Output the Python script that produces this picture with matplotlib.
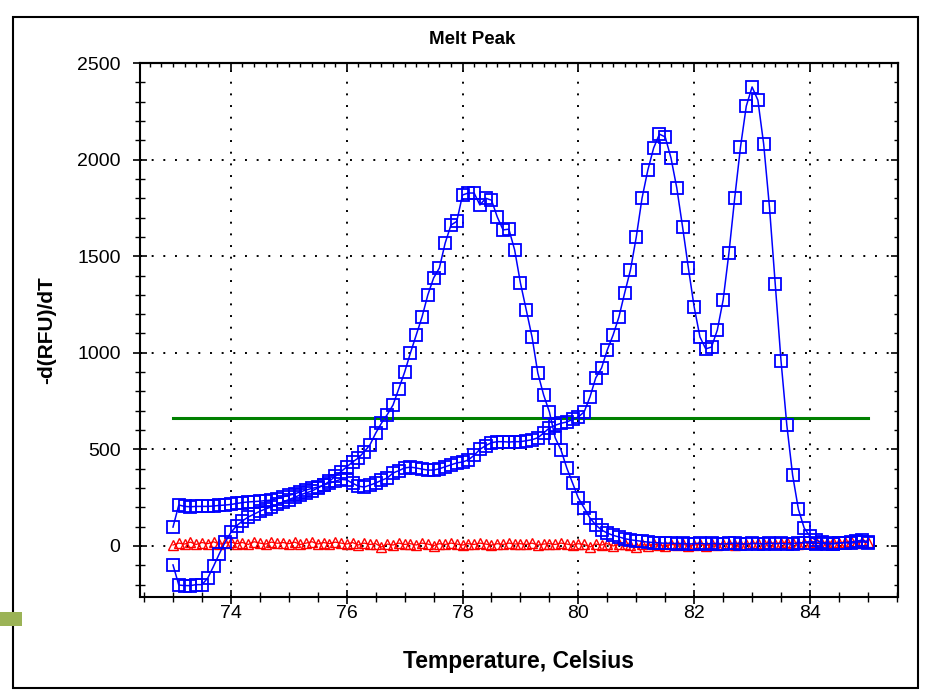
import numpy as np
import matplotlib
matplotlib.use('Agg')
import matplotlib.pyplot as plt
from matplotlib.patches import Rectangle
from matplotlib.ticker import MultipleLocator

plt.rcParams['font.family'] = ['Liberation Sans', 'DejaVu Sans']

# %% data (0.1 C steps, 73.0 -> 85.0)
temp = np.linspace(73.0, 85.0, 121)

well_a = [98, 212, 205, 203, 205, 205, 205, 207, 210, 212,
          215, 220, 225, 228, 230, 232, 235, 238, 245, 255,
          262, 270, 280, 290, 298, 305, 315, 325, 335, 345,
          342, 325, 310, 305, 315, 326, 340, 352, 378, 390,
          404, 408, 404, 398, 393, 393, 400, 410, 420, 430,
          435, 445, 470, 500, 520, 535, 540, 540, 538, 540,
          540, 545, 550, 560, 585, 611, 625, 635, 642, 655,
          668, 694, 771, 870, 921, 1015, 1092, 1185, 1310, 1429,
          1599, 1801, 1946, 2060, 2132, 2117, 2008, 1853, 1651, 1439,
          1237, 1082, 1020, 1030, 1118, 1273, 1516, 1801, 2065, 2277,
          2376, 2308, 2081, 1755, 1356, 958, 626, 367, 190, 93,
          50, 30, 20, 15, 12, 15, 18, 14, 20, 22,
          18]

well_b = [-98, -202, -205, -205, -200, -200, -166, -105, -40, 20,
          70, 105, 130, 150, 165, 180, 192, 202, 215, 228,
          240, 252, 265, 275, 285, 300, 315, 335, 360, 385,
          409, 435, 455, 487, 523, 584, 636, 680, 730, 815,
          900, 999, 1092, 1185, 1299, 1387, 1439, 1568, 1661, 1680,
          1817, 1827, 1827, 1765, 1800, 1790, 1703, 1636, 1640, 1532,
          1361, 1222, 1082, 895, 782, 694, 560, 497, 404, 326,
          248, 197, 145, 109, 83, 67, 55, 47, 38, 32,
          28, 24, 20, 18, 16, 14, 15, 12, 14, 10,
          12, 15, 10, 14, 12, 10, 13, 15, 12, 10,
          14, 12, 10, 15, 12, 14, 10, 12, 15, 18,
          15, 12, 14, 10, 12, 15, 18, 20, 25, 30,
          22]

ntc = [5, 15, 10, 20, 8, 18, 12, 22, 10, 15,
       20, 12, 18, 8, 22, 15, 10, 20, 14, 18,
       12, 20, 8, 15, 22, 10, 18, 12, 20, 15,
       10, 18, 5, 15, 8, 12, -5, 10, 5, 15,
       8, 12, 5, 15, 10, 2, 12, 8, 15, 10,
       5, 12, 8, 15, 10, 5, 12, 8, 15, 10,
       12, 8, 15, 5, 10, 12, 8, 15, 10, 5,
       12, 8, -5, 10, 5, 12, 0, 8, 10, 5,
       -5, 8, 2, 10, 5, -2, 8, 5, 10, 0,
       5, 8, 2, 10, 5, 12, 8, 5, 10, 8,
       12, 15, 10, 18, 12, 15, 20, 15, 12, 18,
       15, 20, 12, 18, 22, 15, 20, 25, 18, 22,
       20]

threshold = 665
thr_range = [73.0, 85.0]

# %%
fig = plt.figure(figsize=(9.28, 6.92), dpi=100)
ax = fig.add_axes([140/928, 1-597/692, 758/928, 534/692])

ax.plot(thr_range, [threshold, threshold], color='#008000', lw=2.2, zorder=2)
ax.plot(temp, ntc, color='red', lw=0.9, marker='^', ms=7.5, mfc='none', mec='red', mew=1.0, zorder=3)
ax.plot(temp, well_b, color='blue', lw=1.1, marker='s', ms=8.5, mfc='none', mec='blue', mew=1.3, zorder=4)
ax.plot(temp, well_a, color='blue', lw=1.1, marker='s', ms=8.5, mfc='none', mec='blue', mew=1.3, zorder=4)

ax.set_xlim(72.43, 85.52)
ax.set_ylim(-264, 2500)
ax.xaxis.set_major_locator(MultipleLocator(2))
ax.xaxis.set_minor_locator(MultipleLocator(0.5))
ax.yaxis.set_major_locator(MultipleLocator(500))
ax.yaxis.set_minor_locator(MultipleLocator(100))
ax.tick_params(which='major', direction='inout', length=10, width=1.2, labelsize=14,
               top=False, right=False)
ax.tick_params(axis='y', which='major', pad=9)
ax.tick_params(axis='x', which='major', pad=1)
ax.tick_params(which='minor', direction='inout', length=7, width=1.0, top=False, right=False)

# top and right ticks drawn inward
axt = ax.secondary_xaxis('top')
axt.xaxis.set_major_locator(MultipleLocator(2))
axt.xaxis.set_minor_locator(MultipleLocator(0.2))
axt.tick_params(which='major', direction='in', length=5, width=1.2, labeltop=False)
axt.tick_params(which='minor', direction='in', length=3, width=1.0)
axr = ax.secondary_yaxis('right')
axr.yaxis.set_major_locator(MultipleLocator(500))
axr.yaxis.set_minor_locator(MultipleLocator(100))
axr.tick_params(which='major', direction='in', length=5, width=1.2, labelright=False)
axr.tick_params(which='minor', direction='in', length=3, width=1.0)

for s in ax.spines.values():
    s.set_linewidth(1.5)
axt.spines['top'].set_linewidth(1.5)
axr.spines['right'].set_linewidth(1.5)

ax.grid(True, which='major', color='black', linestyle=(0, (1, 5)), linewidth=1.4)

fig.text(472/928, 1-40/692, 'Melt Peak', fontsize=13.5, fontweight='bold', ha='center', va='center')
ax.set_xlabel('Temperature, Celsius', fontsize=16.5, fontweight='bold', labelpad=20)
ax.set_ylabel('-d(RFU)/dT', fontsize=15, fontweight='bold', labelpad=15)

# frame of the slide and the little green tab on the left
fig.add_artist(Rectangle((13/928, 1-688/692), 905/928, 671/692, transform=fig.transFigure,
                         fill=False, edgecolor='black', lw=1.5))
fig.add_artist(Rectangle((0, 1-626/692), 22/928, 14/692, transform=fig.transFigure,
                         facecolor='#9bb356', edgecolor='none'))

plt.savefig('out.png', dpi=100)
